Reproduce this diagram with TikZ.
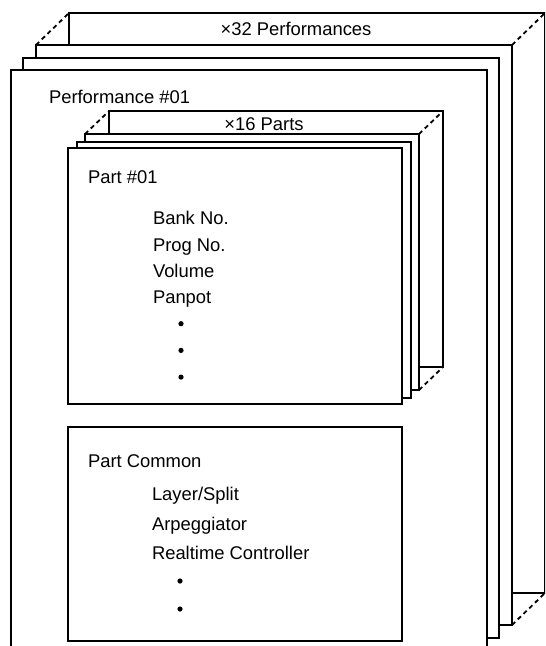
\documentclass[tikz,border=0pt]{standalone}
\usepackage{fontspec}
\setmainfont{Liberation Sans}
\usetikzlibrary{positioning}

\begin{document}
\begin{tikzpicture}[
x=0.5pt, y=-0.5pt,
every node/.style={inner sep=0pt, outer sep=0pt},
perf/.style={draw, fill=white, line width=0.8pt, anchor=north west, minimum width=238pt, minimum height=290pt},
part/.style={draw, fill=white, line width=0.8pt, anchor=north west, minimum width=167pt, minimum height=128pt},
lbl/.style={anchor=west, font=\fontsize{9.2}{11}\selectfont, text height=6.6pt, text depth=0pt},
dot/.style={circle, fill=black, minimum size=2.6pt},
stack/.style={line width=0.9pt, dash pattern=on 2.2pt off 1.8pt}
]
\useasboundingbox (0,0) rectangle (545,646);
\clip (0,0) rectangle (545,646);
% performances
\node[perf] (perf32) at (69,13) {};
\node[perf] (perf3) at (36,45) {};
\node[perf] (perf2) at (23,58) {};
\node[perf] (perf1) at (11,70) {};
\draw[stack] (perf3.north west) -- (perf32.north west);
\draw[stack] (perf3.north east) -- (perf32.north east);
\draw[stack] (perf3.south east) -- (perf32.south east);
\node[lbl, anchor=center] (perftitle) at (296,29) {×32 Performances};
\node[lbl] (perfname) at (49,97) {Performance \#01};
% parts
\node[part] (part16) at (109,111) {};
\node[part] (part3) at (85,134) {};
\node[part] (part2) at (77,142) {};
\node[part] (part1) at (68,148) {};
\draw[stack] (part3.north west) -- (part16.north west);
\draw[stack] (part3.north east) -- (part16.north east);
\draw[stack] (part3.south east) -- (part16.south east);
\node[lbl, anchor=center] (parttitle) at (264,124) {×16 Parts};
\node[lbl] (partname) at (88,177) {Part \#01};
\foreach \t [count=\i] in {Bank No., Prog No., Volume, Panpot}
  \node[lbl] (partitem\i) at (153,{191.6+26.4*\i}) {\t};
\foreach \i in {1,2,3}
  \node[dot] (partdot\i) at (181,{297+26.7*\i}) {};
% part common
\node[part, minimum height=107pt] (common) at (68,427) {};
\node[lbl] (commonname) at (88,461) {Part Common};
\node[lbl] (commonitem1) at (152,494) {Layer/Split};
\node[lbl] (commonitem2) at (152,524) {Arpeggiator};
\node[lbl] (commonitem3) at (152,553) {Realtime Controller};
\node[dot] (commondot1) at (180,581) {};
\node[dot] (commondot2) at (180,609) {};
\end{tikzpicture}
\end{document}
